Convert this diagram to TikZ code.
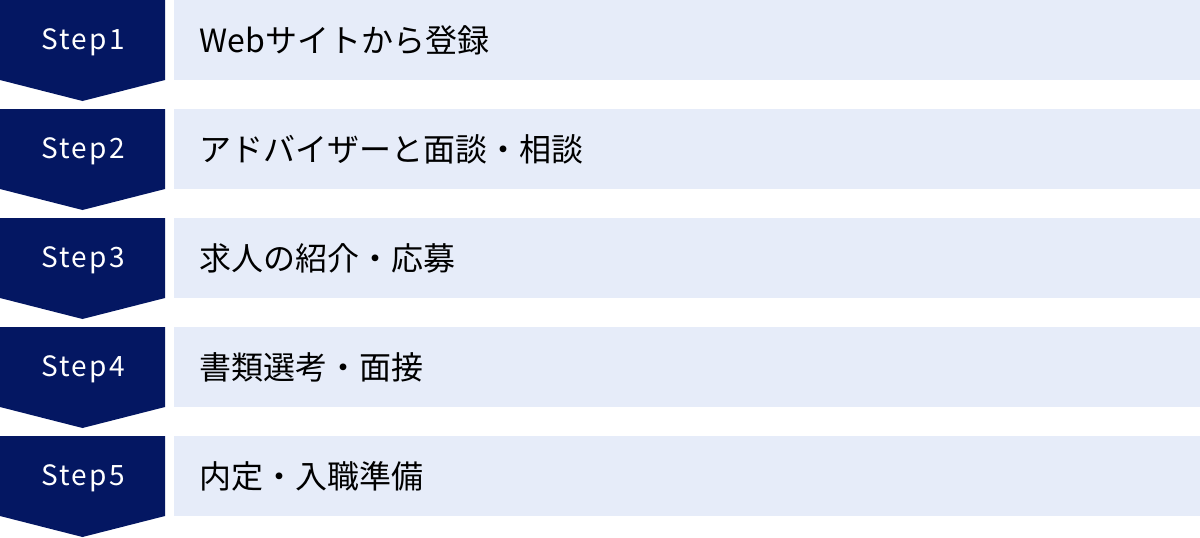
\documentclass[tikz,border=0pt]{standalone}
\usepackage{fontspec}
\setmainfont{Noto Sans CJK JP}
\definecolor{stepnavy}{HTML}{041762}
\definecolor{rowblue}{HTML}{E6ECF9}
\begin{document}
\begin{tikzpicture}[x=1pt,y=-1pt,
  steplabel/.style={text=white,font=\fontsize{28}{30}\selectfont\addfontfeature{LetterSpace=8}},
  rowtext/.style={anchor=west,text=black,font=\fontsize{32}{35}\selectfont}]
  \useasboundingbox (0,0) rectangle (1200,538);
  \foreach \n/\txt [count=\i from 0] in {1/Webサイトから登録,2/アドバイザーと面談・相談,3/求人の紹介・応募,4/書類選考・面接,5/内定・入職準備}{
    \fill[stepnavy] (0,\i*109) -- (165,\i*109) -- (165,\i*109+80) -- (82.5,\i*109+101) -- (0,\i*109+80) -- cycle;
    \fill[rowblue] (174,\i*109) rectangle (1200,\i*109+80);
    \node[steplabel] (step\n) at (83,\i*109+42.5) {Step\n};
    \node[rowtext] (row\n) at (196,\i*109+40.5) {\txt};
  }
\end{tikzpicture}
\end{document}
